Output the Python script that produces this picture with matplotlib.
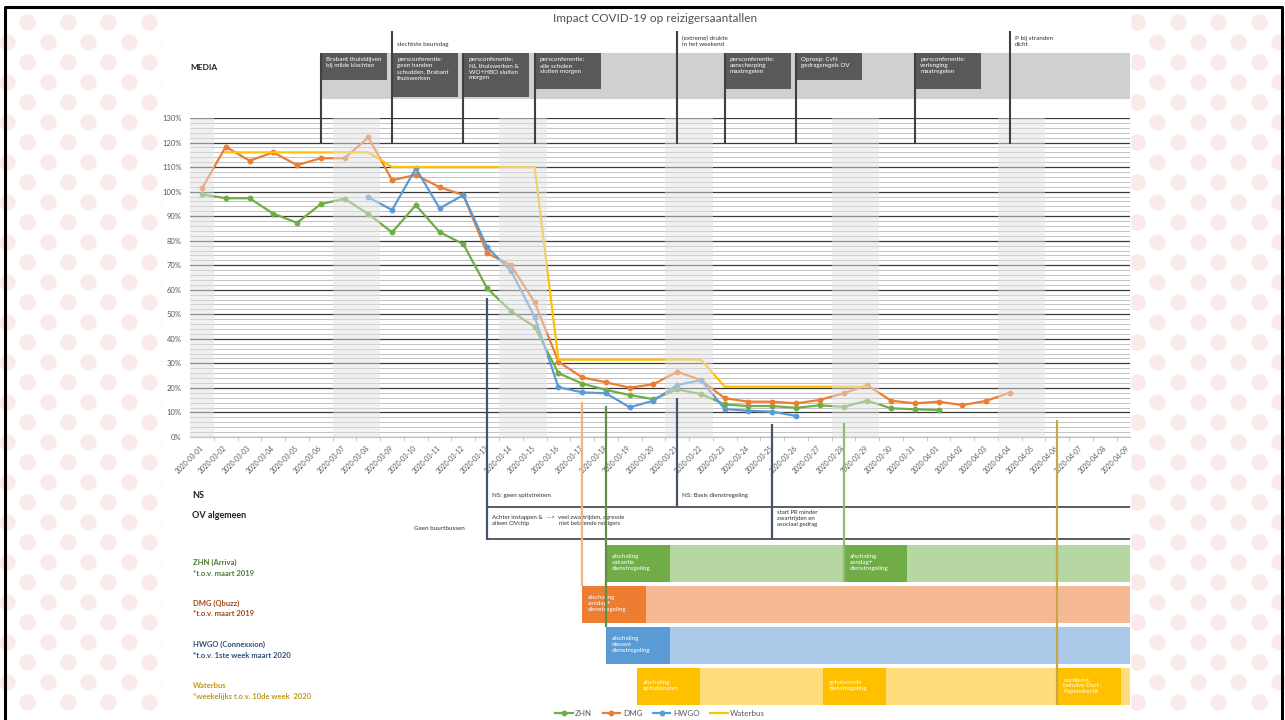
import numpy as np
import pandas as pd
import matplotlib.pyplot as plt
from matplotlib.patches import Rectangle

plt.rcParams["font.family"] = ["Lato", "DejaVu Sans"]

# ---- data -------------------------------------------------------------
DATES = pd.date_range("2020-03-01", "2020-04-09", freq="D")
DATE_LABELS = [d.strftime("%Y-%m-%d") for d in DATES]

NA = np.nan
# reizigers in %
ZHN = [98.9, 97.3, 97.3, 91.0, 87.3, 94.9, 97.1, 90.9, 83.4, 94.5, 83.5, 78.6,
       60.6, 51.3, 44.9, 26.0, 21.8, 19.2, 17.1, 15.4, 19.4, 17.5, 13.3, 12.6,
       12.6, 11.9, 12.9, 12.3, 14.8, 11.7, 11.3, 11.0]
DMG = [101.3, 118.3, 112.6, 116.0, 110.8, 113.6, 113.6, 122.1, 104.7, 106.8,
       101.8, 98.6, 74.9, 70.1, 54.9, 30.7, 24.3, 22.3, 20.1, 21.5, 26.6, 23.2,
       15.8, 14.4, 14.4, 13.7, 15.1, 17.8, 21.1, 14.8, 13.7, 14.4, 13.0, 14.7,
       18.1]
HWGO = [NA, NA, NA, NA, NA, NA, NA, 97.7, 92.5, 109.5, 93.2, 98.6, 77.3, 67.8,
        49.0, 20.3, 18.2, 17.8, 12.1, 14.8, 21.2, 23.2, 11.4, 10.7, 10.3, 8.6]
WATERBUS = [NA, 116, 116, 116, 116, 116, 116, 116, 110, 110, 110, 110, 110, 110,
            110, 31.5, 31.5, 31.5, 31.5, 31.5, 31.5, 31.5, 20.5, 20.5, 20.5, 20.5,
            20.5, 20.5, 20.5]

SERIES = ["ZHN", "DMG", "HWGO", "Waterbus"]
SERIES_VALUES = [ZHN, DMG, HWGO, WATERBUS]
SERIES_COLORS = ["#70ad47", "#ed7d31", "#5b9bd5", "#ffc000"]
SERIES_MARKERS = ["o", "o", "o", None]

# media events
MEDIA_BOX_DATES = ["2020-03-06", "2020-03-09", "2020-03-12", "2020-03-15",
                   "2020-03-23", "2020-03-26", "2020-03-31"]
MEDIA_BOX_TEXT = [
    "Brabant thuisblijven\nbij milde klachten",
    "persconferentie:\ngeen handen\nschudden, Brabant\nthuiswerken",
    "persconferentie:\nNL thuiswerken &\nWO+HBO sluiten\nmorgen",
    "persconferentie:\nalle scholen\nsluiten morgen",
    "persconferentie:\naanscherping\nmaatregelen",
    "Oproep: CvN\ngedragsregels OV",
    "persconferentie:\nverlenging\nmaatregelen",
]
MEDIA_NOTE_DATES = ["2020-03-09", "2020-03-21", "2020-04-04"]
MEDIA_NOTE_TEXT = ["slechtste beursdag", "(extreme) drukte\nin het weekend",
                   "P bij stranden\ndicht"]

# NS / OV algemeen
NS_DATES = ["2020-03-13", "2020-03-21"]
NS_TEXT = ["NS: geen spitstreinen", "NS: Basis dienstregeling"]
OV_DATES = ["2020-03-13", "2020-03-25"]
OV_TEXT = ["Achter instappen &\nalleen OVchip", "start PR minder\nzwartrijden en\nasociaal gedrag"]
OV_EXTRA = "-->  veel zwartrijden, agressie\n        niet betalende reizigers"
OV_NOTE = "Geen buurtbussen"

# vervoerders
ROW_LABELS = ["ZHN (Arriva)", "DMG (Qbuzz)", "HWGO (Connexxion)", "Waterbus"]
ROW_NOTES = ["*t.o.v. maart 2019", "*t.o.v. maart 2019",
             "*t.o.v. 1ste week maart 2020", "*weekelijks t.o.v. 10de week  2020"]
ROW_START = ["2020-03-18", "2020-03-17", "2020-03-18", "2020-03-19 07:00"]
ROW_BOX_DATES = [["2020-03-18", "2020-03-28"], ["2020-03-17"], ["2020-03-18"],
                 ["2020-03-19 07:00", "2020-03-27 03:00", "2020-04-06"]]
ROW_BOX_TEXT = [
    ["afschaling\nvakantie\ndienstregeling", "afschaling\nzondag+\ndienstregeling"],
    ["afschaling\nzondag+\ndienstregeling"],
    ["afschaling\nnieuwe\ndienstregeling"],
    ["afschaling\nspitsdiensten", "gehalveerde\ndienstregeling",
     "uurdienst,\nbehalve Dort-\nPapendrecht"],
]

# ---- layout helpers ----------------------------------------------------
W, H = 1285, 720
X_FIRST, DAY_PX = 202, 23.76
PANEL_L, PANEL_R = 162, 1130


def day(ts):
    return (pd.Timestamp(ts) - DATES[0]) / pd.Timedelta(days=1)


def px(x):
    return (x - X_FIRST) / DAY_PX


def pad(values):
    return np.array(list(values) + [NA] * (len(DATES) - len(values)), dtype=float)


fig = plt.figure(figsize=(W / 100, H / 100), dpi=100)

# background: pink dots + white panel + frame
deco = fig.add_axes([0, 0, 1, 1], zorder=0)
deco.set_xlim(0, W)
deco.set_ylim(H, 0)
deco.axis("off")
for r, y in enumerate(np.arange(22, H, 20)):
    xl = np.arange(27 - 20 * (r % 2), PANEL_L + 10, 40.5)
    xr = np.arange(1137 + 20 * (r % 2), W + 10, 40.7)
    deco.scatter(np.r_[xl, xr], np.full(len(xl) + len(xr), y), s=140,
                 color="#faeaea", linewidths=0)
deco.add_patch(Rectangle((PANEL_L, 0), PANEL_R - PANEL_L, H, color="white", zorder=3))
deco.plot([5, 5, W - 3, W - 3], [H, 7, 7, H], color="black", linewidth=2.2, zorder=4)

# ---- chart --------------------------------------------------------------
ax = fig.add_axes([190 / W, 1 - 437 / H, (PANEL_R - 190) / W, 319 / H], zorder=1)
ax.set_facecolor("none")
x = np.arange(len(DATES))
for name, vals, color, marker in zip(SERIES, SERIES_VALUES, SERIES_COLORS, SERIES_MARKERS):
    ax.plot(x, pad(vals), color=color, marker=marker, markersize=3.2,
            linewidth=1.6, label=name, zorder=2)

# weekends shaded on top of the lines
for i, d in enumerate(DATES):
    if d.weekday() >= 5:
        ax.axvspan(i - 0.5, i + 0.5, color="#e2e2e2", alpha=0.5, linewidth=0, zorder=3)

ax.set_xlim(px(190), px(PANEL_R))
ax.set_ylim(0, 130)
ax.set_yticks(np.arange(0, 131, 10))
ax.set_yticks(np.arange(0, 131, 2), minor=True)
ax.set_yticklabels([f"{v}%" for v in range(0, 131, 10)])
ax.yaxis.grid(True, which="major", color="#3a3a3a", linewidth=0.9, zorder=0)
ax.yaxis.grid(True, which="minor", color="#b8b8b8", linewidth=0.6, zorder=0)
ax.set_axisbelow(True)
ax.set_xticks(x)
ax.set_xticklabels(DATE_LABELS, rotation=45, ha="right", va="center",
                   rotation_mode="anchor", fontsize=4.8, color="#595959")
ax.set_xticks(x[:-1] + 0.5, minor=True)
ax.tick_params(axis="x", which="major", length=0, pad=7)
ax.tick_params(axis="x", which="minor", length=3, color="#bfbfbf")
ax.tick_params(axis="y", which="both", length=0, labelsize=5.5, labelcolor="#595959", pad=6)
for s in ["top", "right", "left"]:
    ax.spines[s].set_visible(False)
ax.spines["bottom"].set_color("#bfbfbf")

ax.legend(loc="center", bbox_to_anchor=(660 / W, 1 - 713 / H),
          bbox_transform=fig.transFigure, ncol=4, frameon=False, fontsize=5.8,
          handlelength=2.2, handletextpad=0.3, columnspacing=1.3,
          labelcolor="#595959", borderpad=0.1)

# ---- annotations (x in days, y in pixels) -----------------------------
ann = fig.add_axes([0, 0, 1, 1], zorder=2)
ann.set_facecolor("none")
ann.set_xlim(px(0), px(W))
ann.set_ylim(H, 0)
ann.axis("off")

fig.text(655 / W, 1 - 18 / H, "Impact COVID-19 op reizigersaantallen",
         ha="center", va="center", fontsize=8.5, color="#505050")

# media
ann.text(px(190), 68, "MEDIA", fontsize=6, fontweight="bold", va="center", color="#202020")
ann.add_patch(Rectangle((day(MEDIA_BOX_DATES[0]), 53),
                        px(PANEL_R) - day(MEDIA_BOX_DATES[0]), 46,
                        color="#d0d0d0", linewidth=0, zorder=1))
box_w = 66 / DAY_PX
for d, t in zip(MEDIA_BOX_DATES, MEDIA_BOX_TEXT):
    n = t.count("\n") + 1
    ann.add_patch(Rectangle((day(d), 53), box_w, 11 + 8.2 * n, color="#595959",
                            linewidth=0, zorder=2))
    ann.text(day(d) + 0.22, 57.5, t, fontsize=4.5, color="white", va="top",
             linespacing=1.25, zorder=3)
for d, t in zip(MEDIA_NOTE_DATES, MEDIA_NOTE_TEXT):
    ann.text(day(d) + 0.22, 47, t, fontsize=4.5, color="#303030", va="bottom",
             linespacing=1.25)
for d in sorted(set(MEDIA_BOX_DATES) | set(MEDIA_NOTE_DATES)):
    top = 31 if d in MEDIA_NOTE_DATES else 53
    ann.vlines(day(d), top, 144, color="#404040", linewidth=1.5, zorder=4)

# NS / OV algemeen
ann.text(px(192), 495, "NS", fontsize=6.5, fontweight="bold", va="center", color="#202020")
ann.text(px(192), 516, "OV algemeen", fontsize=6.5, fontweight="bold", va="center",
         color="#202020")
for d, t in zip(NS_DATES, NS_TEXT):
    ann.text(day(d) + 0.2, 495, t, fontsize=4.5, va="center", color="#303030")
ann.text(day("2020-03-11"), 529, OV_NOTE, fontsize=4.5, ha="center", va="center",
         color="#303030")
ann.text(day(OV_DATES[0]) + 0.2, 515, OV_TEXT[0], fontsize=4.3, va="top",
         linespacing=1.3, color="#303030")
ann.text(day(OV_DATES[0]) + 2.5, 515, OV_EXTRA, fontsize=4.3, va="top",
         linespacing=1.3, color="#303030")
ann.text(day(OV_DATES[1]) + 0.2, 509.5, OV_TEXT[1], fontsize=4.3, va="top",
         linespacing=1.3, color="#303030")
ann.hlines([507, 539], day(OV_DATES[0]), px(PANEL_R), color="#404040", linewidth=1.2)

# navy event lines
for d, y0, y1 in [("2020-03-13", 298, 540), ("2020-03-21", 398, 506),
                  ("2020-03-25", 424, 540)]:
    ann.vlines(day(d), y0, y1, color="#44546a", linewidth=1.6, zorder=5)

# vervoerders rows
ROW_TOP = [545, 586, 627, 668]
ROW_DARK = ["#70ad47", "#ed7d31", "#5b9bd5", "#ffc000"]
ROW_LIGHT = ["#b6d6a2", "#f5ba94", "#abcae9", "#ffdc7c"]
ROW_TXT = ["#4f7a30", "#9c4a1a", "#2f4f78", "#bf9a1c"]
row_h = 37
for i in range(4):
    y0 = ROW_TOP[i]
    ann.text(px(193), y0 + 17, ROW_LABELS[i], fontsize=5.5, fontweight="bold",
             color=ROW_TXT[i], va="center")
    ann.text(px(193), y0 + 28, ROW_NOTES[i], fontsize=5.5, fontweight="bold",
             color=ROW_TXT[i], va="center")
    s = day(ROW_START[i])
    ann.add_patch(Rectangle((s, y0), px(PANEL_R) - s, row_h, color=ROW_LIGHT[i],
                            linewidth=0, zorder=1))
    for d, t in zip(ROW_BOX_DATES[i], ROW_BOX_TEXT[i]):
        ann.add_patch(Rectangle((day(d), y0), 2.68, row_h, color=ROW_DARK[i],
                                linewidth=0, zorder=2))
        ann.text(day(d) + 0.25, y0 + row_h / 2 - 1, t, fontsize=4.5, color="white",
                 va="center", linespacing=1.3, zorder=3)

# coloured event lines
for d, y0, y1, c in [("2020-03-17", 402, 586, "#f4b183"),
                     ("2020-03-18", 406, 627, "#5f8f46"),
                     ("2020-03-28", 423, 582, "#8fbc6f"),
                     ("2020-04-06", 420, 705, "#c8a846")]:
    ann.vlines(day(d), y0, y1, color=c, linewidth=1.6, zorder=4)

fig.savefig("out.png", dpi=100)
